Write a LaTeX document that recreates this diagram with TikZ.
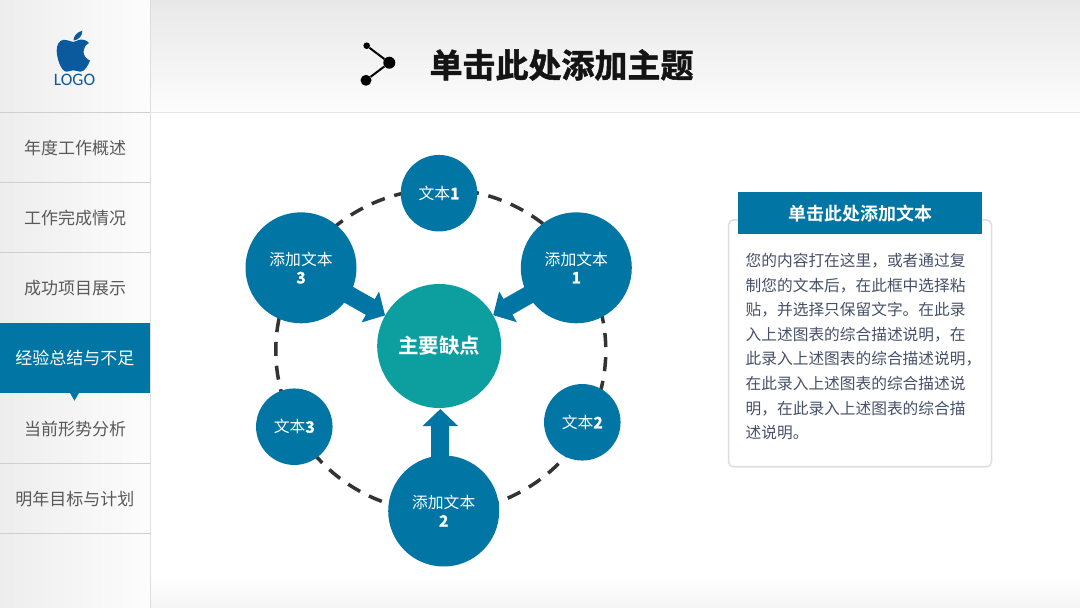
\documentclass[tikz,border=0pt]{standalone}
\usepackage{fontspec}
\usetikzlibrary{arrows.meta,shapes.geometric}
\setmainfont{Noto Sans CJK SC}
\newfontfamily\boldcjk{Noto Sans CJK SC Bold}
\newfontfamily\heavycjk[FakeBold=1.6]{Noto Sans CJK SC Bold}
\newfontfamily\logofont{Carlito}
\definecolor{brandblue}{HTML}{0175A3}
\definecolor{brandteal}{HTML}{0D9EA0}
\definecolor{logoblue}{HTML}{0B5A9E}
\definecolor{menugray}{HTML}{595959}
\definecolor{infotext}{HTML}{465168}
\definecolor{ruleline}{HTML}{CFCFCF}
\definecolor{ringgray}{HTML}{333333}
\pgfdeclarelayer{pagebg}
\pgfdeclarelayer{links}
\pgfsetlayers{pagebg,links,main}
\tikzset{
  menuitem/.style={text=menugray,font=\fontsize{17}{17}\selectfont,inner sep=0pt},
  menuactive/.style={menuitem,text=white},
  bigdisc/.style={circle,fill=brandblue,minimum size=111pt,inner sep=0pt,text=white,align=center,
     font=\fontsize{15.8}{19}\selectfont},
  smalldisc/.style={circle,fill=brandblue,minimum size=76.5pt,inner sep=0pt,text=white,
     font=\fontsize{15.8}{19}\selectfont},
  fatarrow/.style={brandblue,line width=18pt,-{Triangle[length=17pt,width=34.5pt]},shorten <=-4pt},
  ringline/.style={draw=ringgray,line width=3.5pt,dash pattern=on 14pt off 9.85pt,dash phase=20.35pt},
  dot/.style={circle,fill=black,inner sep=0pt},
  dotlink/.style={line width=2pt,black},
}
\begin{document}
\begin{tikzpicture}[x=1pt,y=-1pt]
\useasboundingbox (0,0) rectangle (1080,608);
\begin{pgfonlayer}{pagebg}
  \fill[white] (0,0) rectangle (1080,608);
  \shade[top color=black!9,bottom color=black!1] (150,0) rectangle (1080,112);
  \shade[top color=white,bottom color=black!4] (150,575) rectangle (1080,608);
  \shade[left color=black!7,right color=black!1] (0,0) rectangle (150,608);
  \draw[ruleline!70,line width=1pt] (150.5,0) -- (150.5,608);
  \draw[black!10,line width=1pt] (150,112.5) -- (1080,112.5);
  \foreach \yy in {112.5,182.5,252.5,463.5,533.5}{
    \draw[ruleline,line width=1pt] (0,\yy) -- (150,\yy);
  }
  \fill[brandblue] (0,323.3) rectangle (150,393.3);
  \fill[brandblue] (70,393) -- (79,393) -- (74.5,400.7) -- cycle;
\end{pgfonlayer}

% logo
\fill[logoblue] (73.5,42) .. controls (69,41) and (66.5,39.5) .. (63.5,39.8)
  .. controls (59,40.3) and (56.7,45) .. (56.7,50.5)
  .. controls (56.7,58) and (61,71.7) .. (66.5,71.7)
  .. controls (69,71.7) and (70.5,70.3) .. (73.5,70.3)
  .. controls (76.5,70.3) and (77.5,71.7) .. (80.5,71.7)
  .. controls (84.5,71.7) and (88.5,65) .. (90,60.5)
  .. controls (86,59) and (83.5,55.5) .. (83.5,51.5)
  .. controls (83.5,48) and (85.5,45) .. (89,43)
  .. controls (86.5,40) and (83.5,39.5) .. (81,39.5)
  .. controls (78,39.5) and (76,41.5) .. (73.5,42) -- cycle;
\fill[logoblue] (73.5,40.5) .. controls (73.5,36) and (77,32) .. (82.3,30.7)
  .. controls (82.5,36) and (78.5,40) .. (73.5,40.5) -- cycle;
\node[text=logoblue,font=\logofont\fontsize{17.5}{17.5}\selectfont,inner sep=0pt] (logotext) at (74.5,80) {LOGO};

% menu
\node[menuitem] (m1) at (75,148) {年度工作概述};
\node[menuitem] (m2) at (75,218) {工作完成情况};
\node[menuitem] (m3) at (75,288) {成功项目展示};
\node[menuactive] (m4) at (75,358) {经验总结与不足};
\node[menuitem] (m5) at (75,429) {当前形势分析};
\node[menuitem] (m6) at (75,499) {明年目标与计划};

% title icon
\node[dot,minimum size=6.6pt] (i1) at (366.7,45.7) {};
\node[dot,minimum size=12pt] (i2) at (389.3,62.7) {};
\node[dot,minimum size=11pt] (i3) at (366,80.3) {};
\draw[dotlink] (i1) -- (i2);
\draw[dotlink] (i2) -- (i3);
\node[inner sep=0pt,font=\heavycjk\fontsize{33}{33}\selectfont,text=black!92] (title) at (561.5,65) {单击此处添加主题};

% cycle diagram
\node[circle,fill=brandteal,minimum size=124pt,inner sep=0pt,text=white,
      font=\boldcjk\fontsize{20.5}{20.5}\selectfont] (main) at (439.2,346) {主要缺点};
\node[smalldisc] (t1) at (439,193.2) {文本{\heavycjk 1}};
\node[smalldisc] (t2) at (582.3,422.3) {文本{\heavycjk 2}};
\node[smalldisc] (t3) at (294.3,426.7) {文本{\heavycjk 3}};
\node[bigdisc] (a1) at (576.3,267.8) {添加文本\\[-1pt]{\heavycjk 1}};
\node[bigdisc] (a2) at (443.7,511) {添加文本\\[-1pt]{\heavycjk 2}};
\node[bigdisc] (a3) at (301,267.8) {添加文本\\[-1pt]{\heavycjk 3}};
\coordinate (a2tail) at (440.3,462);
\coordinate (a2tip) at (440.3,409);
\begin{pgfonlayer}{links}
  \node[ellipse,ringline,minimum width=330pt,minimum height=323pt,inner sep=0pt] (ring) at (440.8,350.5) {};
  \draw[fatarrow] (a1) -- (main);
  \draw[fatarrow] (a3) -- (main);
  \draw[fatarrow] (a2tail) -- (a2tip);
\end{pgfonlayer}

% info panel
\node[draw=black!13,line width=1.5pt,fill=white,rounded corners=5pt,minimum width=263pt,minimum height=247pt,inner sep=0pt] (panel) at (860,343.3) {};
\node[fill=brandblue,minimum width=244.3pt,minimum height=42pt,inner sep=0pt,text=white,
      font=\boldcjk\fontsize{18}{18}\selectfont] (head) at (860.2,213.3) {单击此处添加文本};
\node[anchor=north west,inner sep=0pt,text=infotext,align=left,
      font=\fontsize{15.7}{24.6}\selectfont] (body) at (745.5,253) {您的内容打在这里，或者通过复\\
制您的文本后，在此框中选择粘\\
贴，并选择只保留文字。在此录\\
入上述图表的综合描述说明，在\\
此录入上述图表的综合描述说明，\\
在此录入上述图表的综合描述说\\
明，在此录入上述图表的综合描\\
述说明。};
\end{tikzpicture}
\end{document}
